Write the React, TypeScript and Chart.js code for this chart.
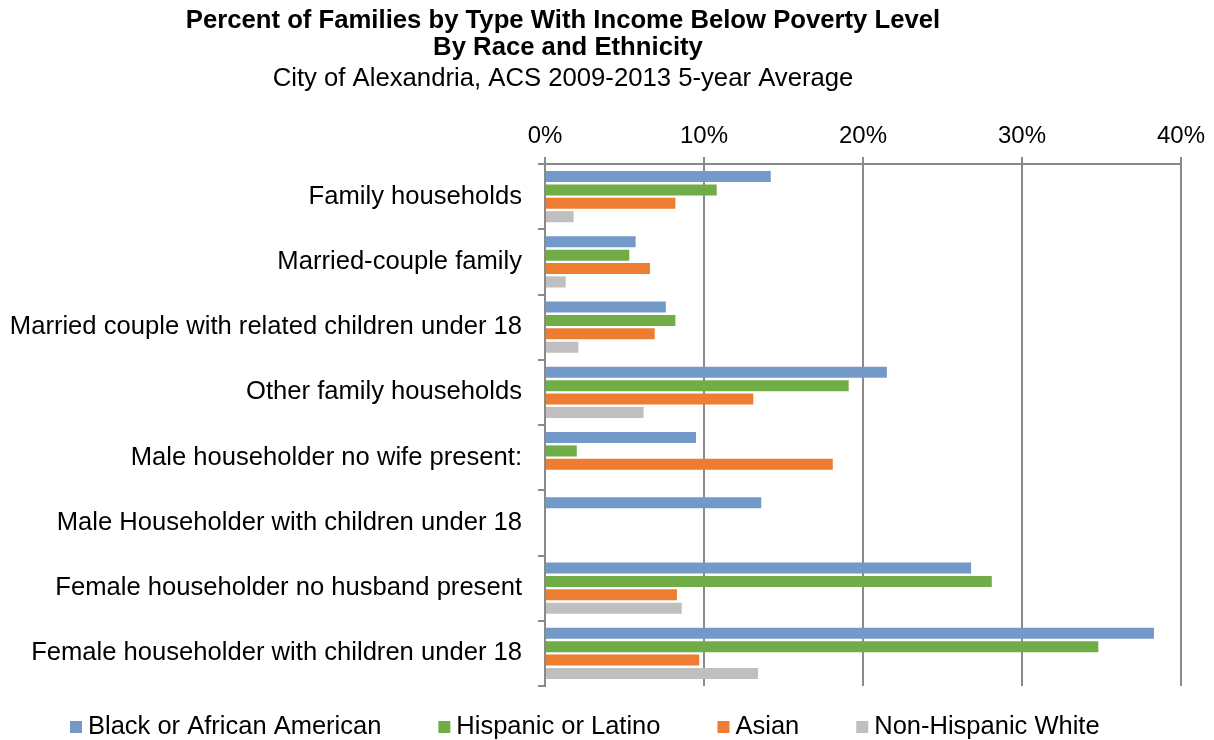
import React, { useEffect, useRef } from "react";
import { Chart, registerables } from "chart.js";

Chart.register(...registerables);

const titleLines = [
  "Percent of Families by Type With Income Below Poverty Level",
  "By Race and Ethnicity",
];
const subtitle = "City of Alexandria, ACS 2009-2013 5-year Average";

const categories = [
  "Family households",
  "Married-couple family",
  "Married couple with related children under 18",
  "Other family households",
  "Male householder no wife present:",
  "Male Householder with children under 18",
  "Female householder no husband present",
  "Female householder with children under 18",
];

const seriesNames = [
  "Black or African American",
  "Hispanic or Latino",
  "Asian",
  "Non-Hispanic White",
];

const blackValues = [14.2, 5.7, 7.6, 21.5, 9.5, 13.6, 26.8, 38.3];
const hispanicValues = [10.8, 5.3, 8.2, 19.1, 2.0, null, 28.1, 34.8];
const asianValues = [8.2, 6.6, 6.9, 13.1, 18.1, null, 8.3, 9.7];
const whiteValues = [1.8, 1.3, 2.1, 6.2, null, null, 8.6, 13.4];

const xTickValues = [0, 10, 20, 30, 40];

const colors = ["#7399c9", "#70ad47", "#ed7d31", "#bfbfbf"];

const FONT = '"Liberation Sans", Arial, Helvetica, sans-serif';
const GRID = "#8a8a8a";

export default function App() {
  const canvasRef = useRef<HTMLCanvasElement | null>(null);

  useEffect(() => {
    document.body.style.margin = "0";
    const canvas = canvasRef.current;
    if (!canvas) return;

    const overlayPlugin = {
      id: "titleAndLegend",
      afterDraw(chart: any) {
        const ctx = chart.ctx as CanvasRenderingContext2D;
        ctx.save();
        ctx.fillStyle = "#000";
        ctx.textAlign = "center";
        ctx.textBaseline = "middle";
        ctx.font = `bold 25.7px ${FONT}`;
        ctx.fillText(titleLines[0], 563, 21);
        ctx.fillText(titleLines[1], 568, 48);
        ctx.font = `25.7px ${FONT}`;
        ctx.fillText(subtitle, 563, 79);

        // legend
        ctx.font = `25.5px ${FONT}`;
        ctx.textAlign = "left";
        let x = 70;
        const y = 727;
        chart.data.datasets.forEach((ds: any) => {
          ctx.fillStyle = ds.backgroundColor;
          ctx.fillRect(x, y - 6, 12, 12);
          ctx.fillStyle = "#000";
          ctx.fillText(ds.label, x + 18, y);
          x += 18 + ctx.measureText(ds.label).width + 57;
        });
        ctx.restore();
      },
    };

    const chart = new Chart(canvas, {
      type: "bar",
      data: {
        labels: categories,
        datasets: [blackValues, hispanicValues, asianValues, whiteValues].map(
          (vals, i) => ({
            label: seriesNames[i],
            data: vals,
            backgroundColor: colors[i],
            borderWidth: 0,
            categoryPercentage: 0.82,
            barPercentage: 0.83,
          })
        ),
      },
      options: {
        indexAxis: "y",
        responsive: false,
        devicePixelRatio: 1,
        animation: false,
        layout: { padding: { top: 100, left: 0, right: 33, bottom: 54 } },
        plugins: {
          legend: { display: false },
          title: { display: false },
          tooltip: { enabled: false },
        },
        scales: {
          x: {
            position: "top",
            min: 0,
            max: 40,
            afterBuildTicks: (scale: any) => {
              scale.ticks = xTickValues.map((v) => ({ value: v }));
            },
            afterFit: (scale: any) => {
              scale.height = 64;
            },
            ticks: {
              color: "#000",
              font: { family: FONT, size: 24 },
              padding: 6,
              callback: (v: any) => `${v}%`,
            },
            grid: {
              color: GRID,
              lineWidth: 2,
              drawTicks: true,
              tickLength: 7,
            },
            border: { color: GRID, width: 2 },
          },
          y: {
            afterFit: (scale: any) => {
              scale.width = 545;
            },
            ticks: {
              color: "#000",
              font: { family: FONT, size: 25.6 },
              padding: 16,
            },
            grid: {
              offset: true,
              drawOnChartArea: false,
              drawTicks: true,
              tickLength: 7,
              color: GRID,
              lineWidth: 2,
            },
            border: { color: GRID, width: 2 },
          },
        },
      },
      plugins: [overlayPlugin],
    } as any);

    return () => chart.destroy();
  }, []);

  return <canvas ref={canvasRef} width={1214} height={740} />;
}
